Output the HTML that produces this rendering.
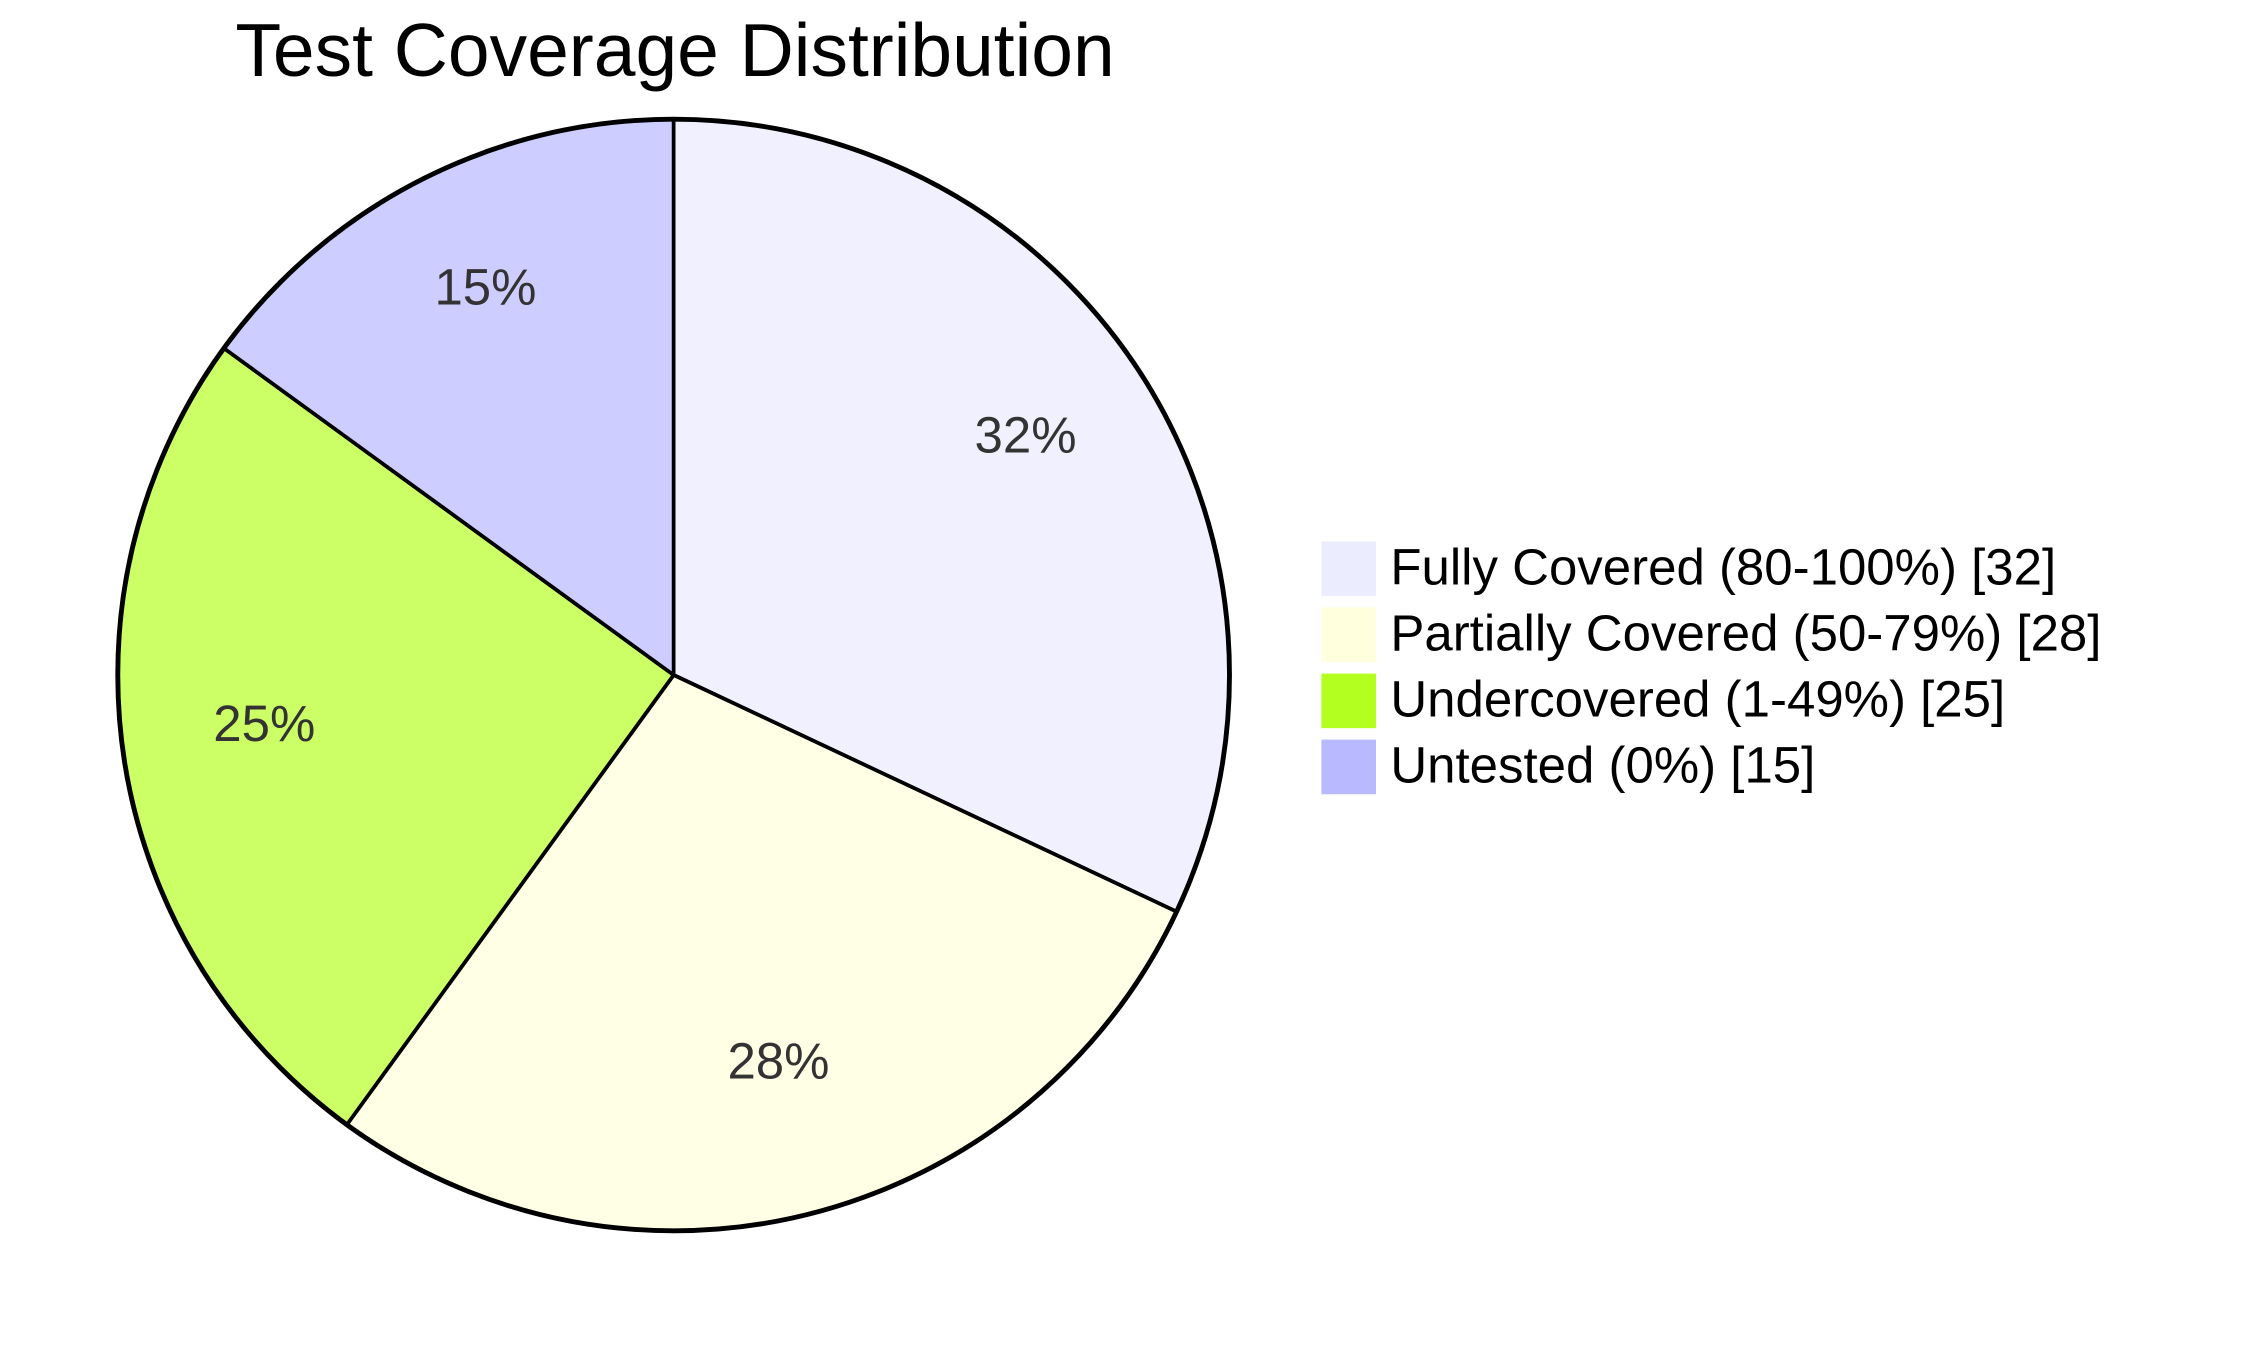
<!DOCTYPE html>
<html><head><meta charset="utf-8"><style>html,body{margin:0;padding:0;background:#fff}svg{display:block}</style></head>
<body>
<svg width="2253" height="1350" viewBox="0 0 1568.6 940" preserveAspectRatio="none" xmlns="http://www.w3.org/2000/svg" font-family="'Liberation Sans', Arial, sans-serif">
<text x="470" y="53" font-size="52.2" text-anchor="middle" fill="#000">Test Coverage Distribution</text>
<g stroke="#000" stroke-width="2.6" stroke-linejoin="round">
<path d="M469,470 L469,83 A387,387 0 0 1 819.2,634.8 Z" fill="#f0f0ff"/>
<path d="M469,470 L819.2,634.8 A387,387 0 0 1 241.5,783.1 Z" fill="#feffe5"/>
<path d="M469,470 L241.5,783.1 A387,387 0 0 1 155.9,242.5 Z" fill="#ccff66"/>
<path d="M469,470 L155.9,242.5 A387,387 0 0 1 469,83 Z" fill="#cdcdff"/>
<circle cx="469" cy="470" r="387" fill="none" stroke-width="3.4"/>
</g>
<g font-size="35.5" fill="#333" text-anchor="middle">
<text x="714" y="315">32%</text>
<text x="542" y="751">28%</text>
<text x="184" y="516">25%</text>
<text x="338" y="212">15%</text>
</g>
<rect x="920" y="377" width="38" height="38" fill="#ececff"/>
<rect x="920" y="423" width="38" height="38" fill="#ffffde"/>
<rect x="920" y="469" width="38" height="38" fill="#b3ff1f"/>
<rect x="920" y="515" width="38" height="38" fill="#b9b9ff"/>
<g font-size="35.5" fill="#000">
<text x="968" y="407">Fully Covered (80-100%) [32]</text>
<text x="968" y="453">Partially Covered (50-79%) [28]</text>
<text x="968" y="499">Undercovered (1-49%) [25]</text>
<text x="968" y="545">Untested (0%) [15]</text>
</g>
</svg>
</body></html>
